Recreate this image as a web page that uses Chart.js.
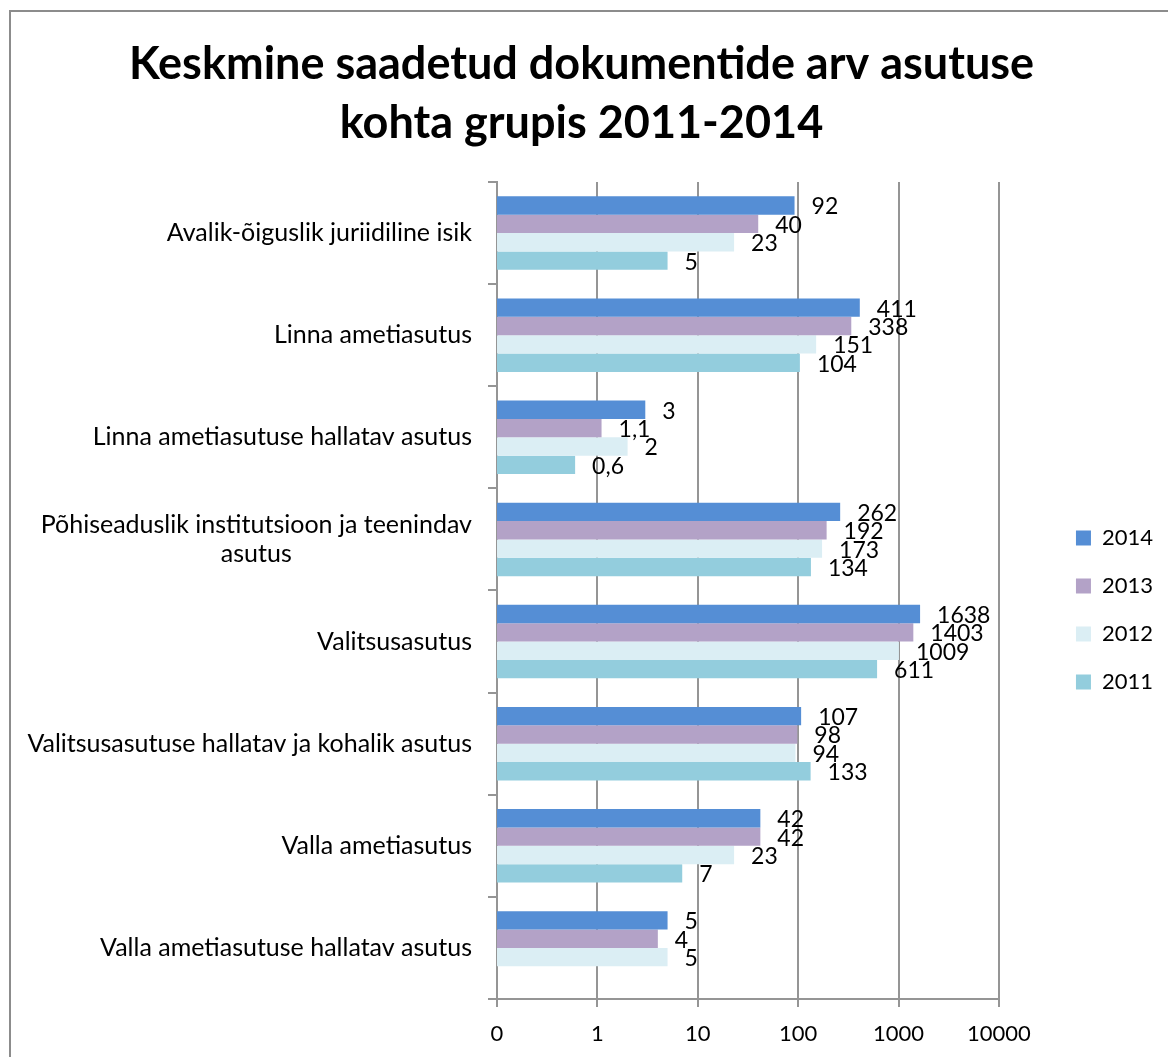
<!DOCTYPE html>
<html>
<head>
<meta charset="utf-8">
<script src="https://cdn.jsdelivr.net/npm/chart.js@4"></script>
<style>
body { margin: 0; background: #fff; }
#wrap { width: 1168px; height: 1057px; }
</style>
</head>
<body>
<div id="wrap"><canvas id="barChart"></canvas></div>
<script>
const categories = [
    'Avalik-õiguslik juriidiline isik',
    'Linna ametiasutus',
    'Linna ametiasutuse hallatav asutus',
    ['Põhiseaduslik institutsioon ja teenindav', 'asutus'],
    'Valitsusasutus',
    'Valitsusasutuse hallatav ja kohalik asutus',
    'Valla ametiasutus',
    'Valla ametiasutuse hallatav asutus'
];
const years = ['2014', '2013', '2012', '2011'];
const values2014 = [92, 411, 3, 262, 1638, 107, 42, 5];
const values2013 = [40, 338, 1.1, 192, 1403, 98, 42, 4];
const values2012 = [23, 151, 2, 173, 1009, 94, 23, 5];
const values2011 = [5, 104, 0.6, 134, 611, 133, 7, null];
const tickValues = [0.1, 1, 10, 100, 1000, 10000];

const series = [values2014, values2013, values2012, values2011];
const colors = ['#558ed5', '#b3a2c7', '#dbeef4', '#93cddd'];
const FONT = 'Lato';
const GRID = '#959595';

Chart.defaults.font.family = FONT;

/* white background + grey frame */
const frame = {
    id: 'frame',
    beforeDraw(chart) {
        const ctx = chart.ctx;
        ctx.save();
        ctx.fillStyle = '#fff';
        ctx.fillRect(0, 0, chart.width, chart.height);
        ctx.strokeStyle = '#8c8c8c';
        ctx.lineWidth = 2;
        ctx.strokeRect(10, 11, chart.width + 20, chart.height + 20);
        ctx.restore();
    }
};

/* numbers next to the bars, comma as decimal separator */
const valueLabels = {
    id: 'valueLabels',
    afterDatasetsDraw(chart) {
        const ctx = chart.ctx;
        ctx.save();
        ctx.font = '23px ' + FONT;
        ctx.fillStyle = '#000';
        ctx.textAlign = 'left';
        ctx.textBaseline = 'middle';
        chart.data.datasets.forEach((ds, i) => {
            chart.getDatasetMeta(i).data.forEach((bar, j) => {
                const v = ds.data[j];
                if (v === null) return;
                ctx.fillText(String(v).replace('.', ','), bar.x + 17, bar.y + 1.5);
            });
        });
        ctx.restore();
    }
};

/* category names, multi-line ones centred under each other */
const categoryLabels = {
    id: 'categoryLabels',
    afterDraw(chart) {
        const ctx = chart.ctx;
        const y = chart.scales.y;
        ctx.save();
        ctx.font = '25px ' + FONT;
        ctx.fillStyle = '#000';
        ctx.textAlign = 'center';
        ctx.textBaseline = 'middle';
        const right = y.right - 25;
        chart.data.labels.forEach((label, i) => {
            const lines = [].concat(label);
            const w = Math.max(...lines.map(l => ctx.measureText(l).width));
            const cy = y.getPixelForValue(i);
            lines.forEach((line, k) => {
                ctx.fillText(line, right - w / 2, cy + (k - (lines.length - 1) / 2) * 29);
            });
        });
        ctx.restore();
    }
};

new Chart(document.getElementById('barChart'), {
    type: 'bar',
    data: {
        labels: categories,
        datasets: years.map((year, i) => ({
            label: year,
            data: series[i],
            backgroundColor: colors[i],
            categoryPercentage: 0.72,
            barPercentage: 1
        }))
    },
    options: {
        indexAxis: 'y',
        responsive: true,
        maintainAspectRatio: false,
        animation: false,
        layout: { padding: { top: 0, right: 5, bottom: 12, left: 0 } },
        scales: {
            x: {
                type: 'logarithmic',
                min: 0.1,
                max: 10000,
                afterBuildTicks: s => { s.ticks = tickValues.map(v => ({ value: v })); },
                afterFit: s => { s.height = 46; },
                ticks: {
                    callback: v => (v < 1 ? '0' : String(v)),
                    font: { size: 22 },
                    color: '#000',
                    padding: 14,
                    maxRotation: 0,
                    autoSkip: false
                },
                grid: { color: GRID, lineWidth: 2, tickLength: 8 },
                border: { color: GRID, width: 2 }
            },
            y: {
                ticks: { display: false },
                grid: { drawOnChartArea: false, color: GRID, lineWidth: 2, tickLength: 9 },
                border: { color: GRID, width: 2 },
                afterFit: s => { s.width = 497; }
            },
            gap: {
                type: 'linear',
                position: 'right',
                display: true,
                ticks: { display: false },
                grid: { display: false },
                border: { display: false },
                afterFit: s => { s.width = 51; }
            }
        },
        plugins: {
            title: {
                display: true,
                text: ['Keskmine saadetud dokumentide arv asutuse', 'kohta grupis 2011-2014'],
                color: '#000',
                font: { size: 45, weight: 'bold', lineHeight: 1.311 },
                padding: { top: 34.5, bottom: 29.5 }
            },
            legend: {
                position: 'right',
                fullSize: false,
                align: 'center',
                title: { display: true, text: '', font: { size: 13, lineHeight: 1 }, padding: { top: 26, bottom: 0 } },
                labels: {
                    boxWidth: 15,
                    boxHeight: 15,
                    padding: 26,
                    color: '#000',
                    font: { size: 22 }
                }
            },
            tooltip: { enabled: false }
        }
    },
    plugins: [frame, valueLabels, categoryLabels]
});
</script>
</body>
</html>
